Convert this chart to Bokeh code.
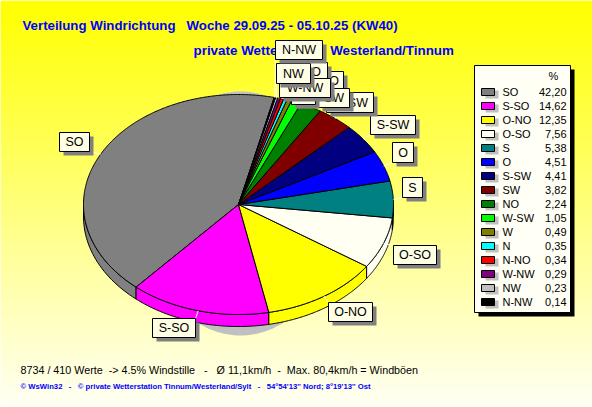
import numpy as np
from bokeh.plotting import figure
from bokeh.models import Range1d
from bokeh.core.properties import value
from bokeh.embed import file_html
from bokeh.resources import INLINE

# ---- data -------------------------------------------------------------
directions = ["SO", "S-SO", "O-NO", "O-SO", "S", "O", "S-SW", "SW", "NO", "W-SW", "W", "N", "N-NO", "W-NW", "NW", "N-NW"]
shares = [42.20, 14.62, 12.35, 7.56, 5.38, 4.51, 4.41, 3.82, 2.24, 1.05, 0.49, 0.35, 0.34, 0.29, 0.23, 0.14]
share_labels = ["42,20", "14,62", "12,35", "7,56", "5,38", "4,51", "4,41", "3,82", "2,24", "1,05", "0,49", "0,35", "0,34", "0,29", "0,23", "0,14"]
slice_colors = ["#808080", "#ff00ff", "#ffff00", "#fffff2", "#008080", "#0000ff", "#000080", "#800000", "#008000", "#00ff00", "#808000", "#00ffff", "#ff0000", "#800080", "#c0c0c0", "#000000"]

title_1 = "Verteilung Windrichtung\u00a0\u00a0\u00a0Woche 29.09.25 - 05.10.25 (KW40)"
title_2 = "private Wetterstation Westerland/Tinnum"
stats = "8734 / 410 Werte\u00a0\u00a0-> 4.5% Windstille\u00a0\u00a0\u00a0-\u00a0\u00a0\u00a0Ø 11,1km/h\u00a0\u00a0-\u00a0\u00a0Max. 80,4km/h = Windböen"
footer = "© WsWin32\u00a0\u00a0\u00a0-\u00a0\u00a0\u00a0© private Wetterstation Tinnum/Westerland/Sylt\u00a0\u00a0\u00a0-\u00a0\u00a0\u00a054°54'13'' Nord; 8°19'13'' Ost"

# callout boxes: left, right, top, bottom, in drawing order
callouts = {
    "SO": (59, 89, 132, 151), "S-SO": (152, 195, 318, 337), "O-NO": (328, 372, 302, 321),
    "O-SO": (393, 436, 245, 264), "S": (402, 422, 177, 197), "O": (392, 413, 142, 162),
    "S-SW": (370, 415, 115, 134), "W-SW": (326, 373, 92, 112), "NO": (315, 343, 71, 90),
    "SW": (318, 349, 88, 107), "N": (293, 313, 85, 104), "W": (291, 315, 85, 104),
    "N-NO": (282, 327, 62, 81), "W-NW": (279, 330, 78, 97), "NW": (276, 310, 63, 83),
    "N-NW": (275, 322, 40, 59),
}

# ---- geometry ---------------------------------------------------------
CX, CY, RX, RY, DEPTH = 238, 204, 155, 110, 12
START = 13.3
W, H = 592, 407

p = figure(width=W, height=H, output_backend="svg", toolbar_location=None,
           x_range=Range1d(0, W), y_range=Range1d(H, 0), min_border=0)
p.axis.visible = False
p.grid.visible = False
p.outline_line_color = None
p.background_fill_color = "#ffffff"
p.border_fill_color = "#ffffff"

# vertical background gradient, yellow at the top to near white at the bottom
band_top = np.arange(0, H)
blue = (band_top / (H - 1) * 245).astype(int)
p.quad(left=0, right=W, top=band_top, bottom=band_top + 1.5,
       fill_color=[f"#ffff{b:02x}" for b in blue], line_color=None)

# titles and notes, underneath the callouts
p.text(x=[22], y=[25], text=[title_1], text_align="left", text_baseline="middle",
       text_font=value("Liberation Sans"), text_font_style="bold", text_font_size="13.25px", text_color="#0000ff")
p.text(x=[193], y=[50], text=[title_2], text_align="left", text_baseline="middle",
       text_font=value("Liberation Sans"), text_font_style="bold", text_font_size="13.4px", text_color="#0000ff")
p.text(x=[20], y=[369], text=[stats], text_align="left", text_baseline="middle",
       text_font=value("Liberation Sans"), text_font_size="10.75px", text_color="#000000")
p.text(x=[20], y=[386], text=[footer], text_align="left", text_baseline="middle",
       text_font=value("Liberation Sans"), text_font_style="bold", text_font_size="7.7px", text_color="#0000ff")


def ex(a):
    return CX + RX * np.sin(np.radians(a))


def ey(a):
    return CY - RY * np.cos(np.radians(a))


# soft shadow ellipse behind the pie
sa = np.linspace(0, 360, 181)
p.patch(CX + 96 * np.sin(np.radians(sa)) + 2, 213 - 122 * np.cos(np.radians(sa)),
        fill_color="#c0c0c0", line_color=None)

total = sum(shares)
ends = START - np.cumsum(shares) / total * 360
starts = np.concatenate(([START], ends[:-1]))
mids = (starts + ends) / 2

# rim
for a0, a1, col in zip(starts, ends, slice_colors):
    arc = np.linspace(a0, a1, 90)
    arc = arc[np.cos(np.radians(arc)) <= 0]
    if len(arc) < 2:
        continue
    xs = np.concatenate((ex(arc), ex(arc)[::-1]))
    ys = np.concatenate((ey(arc), (ey(arc) + DEPTH)[::-1]))
    p.patch(xs, ys, fill_color=col, line_color="black", line_width=1)

# top face
for a0, a1, col in zip(starts, ends, slice_colors):
    arc = np.linspace(a0, a1, max(4, int(abs(a0 - a1)) * 2))
    xs = np.concatenate(([CX], ex(arc)))
    ys = np.concatenate(([CY], ey(arc)))
    p.patch(xs, ys, fill_color=col, line_color="black", line_width=1)

# connectors
mid_of = dict(zip(directions, mids))
for name, (l, r, t_, b) in callouts.items():
    px_, py_ = float(ex(mid_of[name])), float(ey(mid_of[name]))
    p.line([min(max(px_, l), r), px_], [min(max(py_, t_), b), py_], line_color="white", line_width=1)

# callout boxes
for name, (l, r, t_, b) in callouts.items():
    p.quad(left=l + 4, right=r + 4, top=t_ + 4, bottom=b + 4, fill_color="#808080", line_color=None)
    p.quad(left=l, right=r, top=t_, bottom=b, fill_color="#ffffe6", line_color="black", line_width=1)
    p.text(x=[(l + r) / 2], y=[(t_ + b) / 2], text=[name], text_align="center", text_baseline="middle",
           text_font=value("Liberation Sans"), text_font_size="12.5px", text_color="#000000")

# legend
LX0, LX1, LY0, LY1 = 474, 570, 65, 312
p.quad(left=LX0 + 4, right=LX1 + 4, top=LY0 + 4, bottom=LY1 + 4, fill_color="black", line_color=None)
p.quad(left=LX0, right=LX1, top=LY0, bottom=LY1, fill_color="#fffff5", line_color="black", line_width=1)
p.text(x=[553], y=[75], text=["%"], text_align="center", text_baseline="middle",
       text_font=value("Liberation Sans"), text_font_size="11px", text_color="#000000")
for i, (name, lab, col) in enumerate(zip(directions, share_labels, slice_colors)):
    y = 91 + 14 * i
    p.quad(left=485, right=498, top=y - 1, bottom=y + 7, fill_color="#c0c0c0", line_color=None)
    p.quad(left=481, right=494, top=y - 3, bottom=y + 4, fill_color=col, line_color="black", line_width=1)
    p.text(x=[502], y=[y], text=[name], text_align="left", text_baseline="middle",
           text_font=value("Liberation Sans"), text_font_size="11px", text_color="#000000")
    p.text(x=[566], y=[y], text=[lab], text_align="right", text_baseline="middle",
           text_font=value("Liberation Sans"), text_font_size="11px", text_color="#000000")

open("out.html", "w").write(file_html(p, INLINE))
